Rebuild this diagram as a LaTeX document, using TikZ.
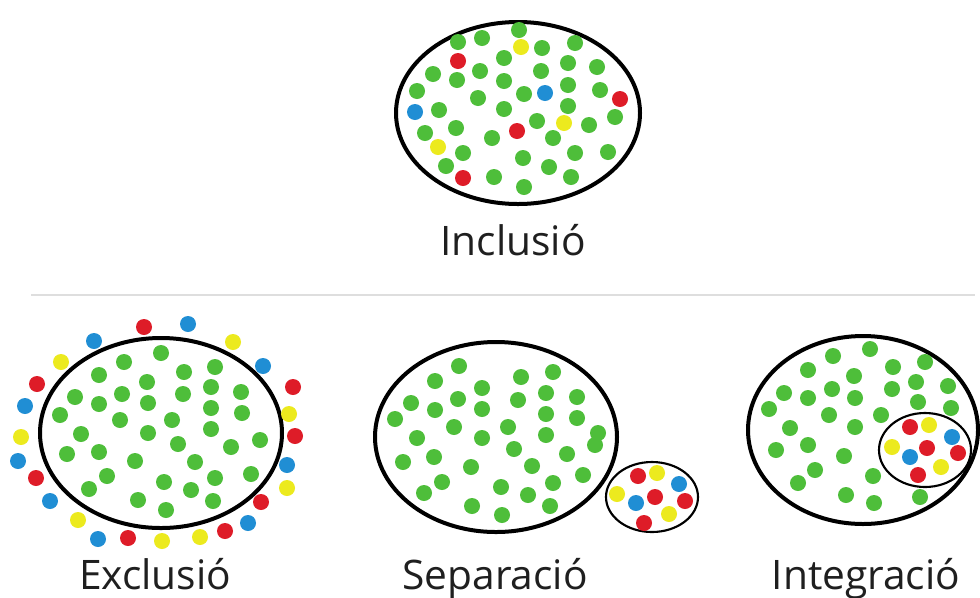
\documentclass[tikz,border=0pt]{standalone}
\usepackage{fontspec}
\setmainfont{Open Sans}
\definecolor{dg}{RGB}{78,190,58}
\definecolor{dr}{RGB}{222,28,40}
\definecolor{db}{RGB}{32,142,212}
\definecolor{dy}{RGB}{236,234,30}
\definecolor{sep}{RGB}{222,222,222}
\begin{document}
\begin{tikzpicture}[x=0.75pt,y=-0.75pt,
  ring/.style={draw=black,line width=3pt},
  smallring/.style={draw=black,line width=1.6pt},
  lbl/.style={font=\fontsize{30.5}{33}\selectfont,text=black!88,anchor=base,inner sep=0pt}]
\useasboundingbox (0,0) rectangle (980,597);
\fill[white] (0,0) rectangle (980,597);

% separator line
\coordinate (l1) at (31,295);
\coordinate (l2) at (975,295);
\draw[sep,line width=1.2pt] (l1) -- (l2);

% ---------- Inclusio ----------
\draw[ring] (518,113) ellipse [x radius=122, y radius=91];
\foreach \x/\y in {519/30,458/42,482/38,542/48,575/43,504/58,568/63,597/67,433/74,457/80,480/71,504/81,541/71,417/91,478/98,524/94,568/85,600/90,439/110,504/109,568/106,615/117,537/121,589/125,456/128,425/133,492/138,553/138,463/153,523/158,575/153,608/152,446/166,549/167,494/177,571/177,524/187}
  \fill[dg] (\x,\y) circle[radius=8];
\foreach \x/\y in {458/61,620/99,517/131,463/178} \fill[dr] (\x,\y) circle[radius=8];
\foreach \x/\y in {545/93,415/112} \fill[db] (\x,\y) circle[radius=8];
\foreach \x/\y in {521/47,564/123,438/147} \fill[dy] (\x,\y) circle[radius=8];
\node[lbl] (inc) at (513,255) {Inclusió};

% ---------- Exclusio ----------
\draw[ring] (161,433) ellipse [x radius=121, y radius=95];
\foreach \x/\y in {161/353,124/362,184/372,215/367,99/375,147/382,75/397,99/404,122/394,148/403,183/394,211/387,241/392,60/415,120/420,172/420,211/408,242/413,81/434,148/433,211/429,178/444,260/440,67/454,99/452,135/461,195/462,231/447,107/476,164/482,215/478,251/474,89/489,191/490,138/500,213/501,166/510}
  \fill[dg] (\x,\y) circle[radius=8];
\foreach \x/\y in {144/327,37/384,293/387,295/436,36/478,261/502,225/531,128/538} \fill[dr] (\x,\y) circle[radius=8];
\foreach \x/\y in {188/324,94/341,263/366,25/406,18/461,287/465,50/501,248/523,98/539} \fill[db] (\x,\y) circle[radius=8];
\foreach \x/\y in {233/342,61/362,289/414,21/437,287/488,78/520,200/537,162/541} \fill[dy] (\x,\y) circle[radius=8];
\node[lbl] (exc) at (155,589) {Exclusió};

% ---------- Separacio ----------
\draw[ring] (496,437) ellipse [x radius=121, y radius=95];
\foreach \x/\y in {459/366,435/381,521/377,553/372,482/388,411/403,458/399,518/400,546/393,577/397,435/410,482/409,395/419,454/427,508/427,546/414,577/418,417/438,482/438,546/435,598/433,595/445,514/449,567/454,403/462,434/457,471/467,532/466,583/475,442/482,553/483,501/487,424/493,528/495,472/506,550/506,502/515}
  \fill[dg] (\x,\y) circle[radius=8];
\fill[white] (652,497) ellipse [x radius=46, y radius=35];
\draw[smallring] (652,497) ellipse [x radius=46, y radius=35];
\foreach \x/\y in {638/476,655/497,685/501,644/523} \fill[dr] (\x,\y) circle[radius=8];
\foreach \x/\y in {679/484,636/503} \fill[db] (\x,\y) circle[radius=8];
\foreach \x/\y in {657/473,617/494,669/514} \fill[dy] (\x,\y) circle[radius=8];
\node[lbl] (sep) at (495,589) {Separació};

% ---------- Integracio ----------
\draw[ring] (863,430) ellipse [x radius=115, y radius=94];
\foreach \x/\y in {870/349,833/356,925/362,893/367,808/370,854/376,916/382,948/386,784/393,832/389,892/389,808/398,855/398,918/402,951/408,769/409,829/415,881/415,790/428,855/427,776/450,808/445,844/456,815/470,873/476,798/483,846/495,920/497,874/503}
  \fill[dg] (\x,\y) circle[radius=8];
\draw[smallring] (925,450) ellipse [x radius=46, y radius=37];
\foreach \x/\y in {910/427,927/448,958/453,918/475} \fill[dr] (\x,\y) circle[radius=8];
\foreach \x/\y in {952/437,910/457} \fill[db] (\x,\y) circle[radius=8];
\foreach \x/\y in {929/425,892/447,941/467} \fill[dy] (\x,\y) circle[radius=8];
\node[lbl] (int) at (866,589) {Integració};
\end{tikzpicture}
\end{document}
